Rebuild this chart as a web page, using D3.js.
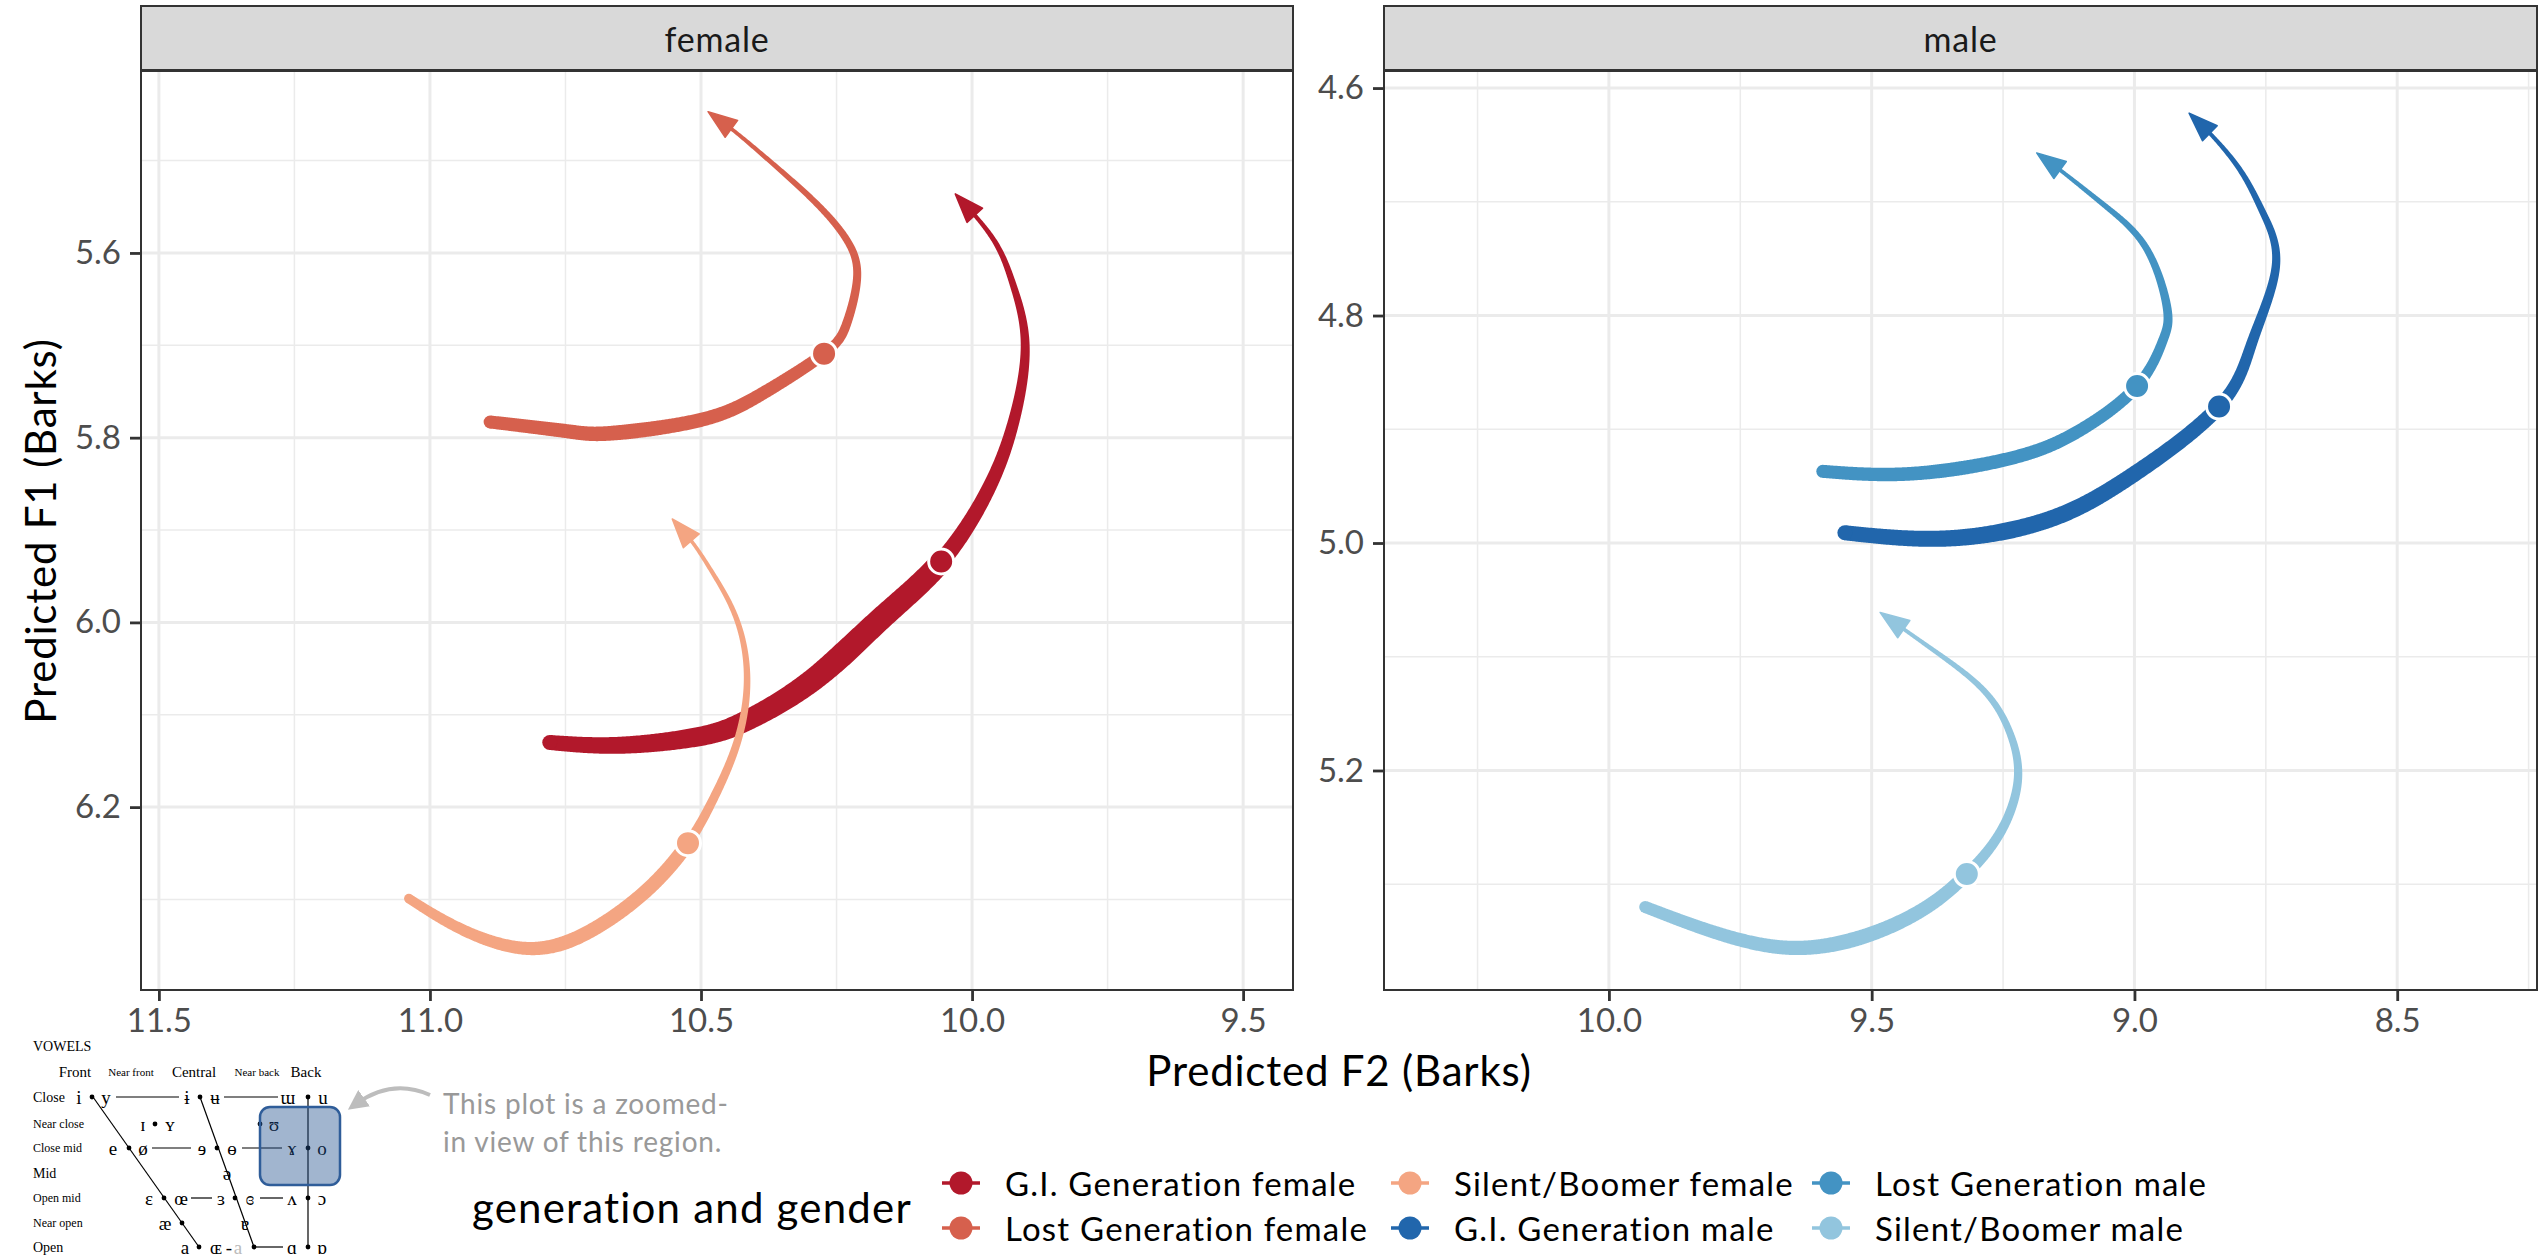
<!DOCTYPE html>
<html><head><meta charset="utf-8">
<script src="https://cdn.jsdelivr.net/npm/d3@7"></script>
<style>body{margin:0;background:#fff}svg{display:block}</style>
</head><body>
<svg id="chart" width="2539" height="1256"></svg>
<script>
// ---------------- DATA ----------------
const seriesNames = ["G.I. Generation female","Lost Generation female","Silent/Boomer female","G.I. Generation male","Lost Generation male","Silent/Boomer male"];
const seriesPanels = ["female","female","female","male","male","male"];
const seriesColors = ["#b2182b","#d6604d","#f4a582","#2166ac","#4393c3","#92c5de"];

// trajectories: F2 (Barks) and F1 (Barks), from onset to offset
const giFemaleF2   = [10.779,10.649,10.507,10.415,10.293,10.170,10.057,9.972,9.924,9.902,9.924,9.961,10.031];
const giFemaleF1   = [6.130,6.133,6.124,6.106,6.062,5.997,5.934,5.858,5.784,5.701,5.635,5.585,5.536];
const lostFemaleF2 = [10.889,10.747,10.662,10.502,10.386,10.273,10.231,10.212,10.231,10.293,10.386,10.441,10.487];
const lostFemaleF1 = [5.783,5.793,5.795,5.781,5.752,5.709,5.676,5.626,5.586,5.543,5.494,5.467,5.447];
const silentFemaleF2 = [11.039,10.939,10.821,10.710,10.600,10.524,10.478,10.434,10.415,10.434,10.478,10.515,10.553];
const silentFemaleF1 = [6.299,6.333,6.353,6.336,6.290,6.239,6.192,6.131,6.062,5.997,5.947,5.914,5.888];
const giMaleF2   = [9.551,9.357,9.167,9.009,8.839,8.775,8.731,8.755,8.799,8.856,8.896];
const giMaleF1   = [4.991,4.996,4.980,4.942,4.880,4.822,4.757,4.710,4.672,4.640,4.622];
const lostMaleF2 = [9.593,9.422,9.231,9.104,8.995,8.946,8.938,8.976,9.052,9.136,9.186];
const lostMaleF1 = [4.937,4.939,4.925,4.901,4.862,4.822,4.793,4.742,4.705,4.674,4.657];
const silentMaleF2 = [9.931,9.794,9.650,9.509,9.395,9.319,9.256,9.222,9.237,9.288,9.383,9.484];
const silentMaleF1 = [5.320,5.343,5.356,5.345,5.320,5.291,5.255,5.209,5.167,5.129,5.094,5.061];
// index of the highlighted (midpoint) measurement in each trajectory
const midpointIndex = [6,5,5,4,4,5];

// axis ticks and limits
const femaleF2Ticks = [11.5,11.0,10.5,10.0,9.5];
const femaleF1Ticks = [5.6,5.8,6.0,6.2];
const maleF2Ticks = [10.0,9.5,9.0,8.5];
const maleF1Ticks = [4.6,4.8,5.0,5.2];
const femaleF2Limits = [11.533,9.408];
const femaleF1Limits = [5.403,6.398];
const maleF2Limits = [10.428,8.234];
const maleF1Limits = [4.585,5.393];

// --------------- STYLE / LAYOUT ---------------
const FONT = "Lato, 'Open Sans', sans-serif";
const PANEL_TOP = 71, PANEL_BOTTOM = 990, STRIP_TOP = 6;
const panelBox = {female:[141,1293], male:[1384,2537]};
// width profile: start, peak (fraction of way to midpoint), before midpoint, after midpoint, end
const widthStyle = [
  {w0:15, wPeak:24, peakFrac:0.7, wDot:22, wAfter:17, wEnd:3},
  {w0:13, wPeak:15, peakFrac:0.4, wDot:12, wAfter:10, wEnd:3},
  {w0:9.5,wPeak:14, peakFrac:0.5, wDot:14, wAfter:10, wEnd:3},
  {w0:15, wPeak:17, peakFrac:0.4, wDot:15, wAfter:13, wEnd:3},
  {w0:13, wPeak:14, peakFrac:0.4, wDot:12, wAfter:11, wEnd:3},
  {w0:12, wPeak:15, peakFrac:0.6, wDot:13, wAfter:11, wEnd:3}
];

const seriesF2 = [giFemaleF2,lostFemaleF2,silentFemaleF2,giMaleF2,lostMaleF2,silentMaleF2];
const seriesF1 = [giFemaleF1,lostFemaleF1,silentFemaleF1,giMaleF1,lostMaleF1,silentMaleF1];

const svg = d3.select("#chart");
svg.append("rect").attr("width",2539).attr("height",1256).attr("fill","#fff");

const panels = [
  {name:"female", xDom:femaleF2Limits, yDom:femaleF1Limits, xt:femaleF2Ticks, yt:femaleF1Ticks},
  {name:"male", xDom:maleF2Limits, yDom:maleF1Limits, xt:maleF2Ticks, yt:maleF1Ticks}
];

function minorVals(ticks, dom){
  const step = ticks[1]-ticks[0];
  const lo = Math.min(dom[0],dom[1]), hi = Math.max(dom[0],dom[1]);
  const out=[];
  for(let k=-2;k<ticks.length+2;k++){const v=ticks[0]+step*(k+0.5); if(v>lo&&v<hi) out.push(v);}
  return out;
}

panels.forEach(p=>{
  const [x0,x1] = panelBox[p.name];
  p.x = d3.scaleLinear().domain(p.xDom).range([x0,x1]);
  p.y = d3.scaleLinear().domain(p.yDom).range([PANEL_TOP,PANEL_BOTTOM]);
  const g = svg.append("g").attr("class","panel-"+p.name);
  g.append("rect").attr("x",x0).attr("y",PANEL_TOP).attr("width",x1-x0).attr("height",PANEL_BOTTOM-PANEL_TOP).attr("fill","#fff");
  const grid = g.append("g");
  minorVals(p.xt,p.xDom).forEach(v=>grid.append("line").attr("x1",p.x(v)).attr("x2",p.x(v)).attr("y1",PANEL_TOP).attr("y2",PANEL_BOTTOM).attr("stroke","#ebebeb").attr("stroke-width",1.5));
  minorVals(p.yt,p.yDom).forEach(v=>grid.append("line").attr("y1",p.y(v)).attr("y2",p.y(v)).attr("x1",x0).attr("x2",x1).attr("stroke","#ebebeb").attr("stroke-width",1.5));
  p.xt.forEach(v=>grid.append("line").attr("x1",p.x(v)).attr("x2",p.x(v)).attr("y1",PANEL_TOP).attr("y2",PANEL_BOTTOM).attr("stroke","#ebebeb").attr("stroke-width",3));
  p.yt.forEach(v=>grid.append("line").attr("y1",p.y(v)).attr("y2",p.y(v)).attr("x1",x0).attr("x2",x1).attr("stroke","#ebebeb").attr("stroke-width",3));

  // axes
  const ya = g.append("g").attr("transform",`translate(${x0},0)`)
    .call(d3.axisLeft(p.y).tickValues(p.yt).tickSize(11).tickPadding(9).tickFormat(d3.format(".1f")));
  const xa = g.append("g").attr("transform",`translate(0,${PANEL_BOTTOM})`)
    .call(d3.axisBottom(p.x).tickValues(p.xt).tickSize(11).tickPadding(8).tickFormat(d3.format(".1f")));
  [ya,xa].forEach(a=>{
    a.select(".domain").remove();
    a.selectAll(".tick line").attr("stroke","#333").attr("stroke-width",2.8);
    a.selectAll(".tick text").attr("fill","#4d4d4d").style("font-family",FONT).style("font-size","33px");
  });

  // strip
  g.append("rect").attr("x",x0).attr("y",STRIP_TOP).attr("width",x1-x0).attr("height",PANEL_TOP-STRIP_TOP-1)
    .attr("fill","#d9d9d9").attr("stroke","#333").attr("stroke-width",2);
  g.append("text").attr("x",(x0+x1)/2).attr("y",(STRIP_TOP+PANEL_TOP)/2).attr("text-anchor","middle")
    .attr("dominant-baseline","central").attr("fill","#1a1a1a").style("font-family",FONT).style("font-size","34px")
    .style("letter-spacing","0.8px").text(p.name);
  p.g = g;
});

// ---------------- TRAJECTORIES ----------------
const trajLayer = {};
panels.forEach(p=>{trajLayer[p.name] = svg.append("g");});
const dotLayer = svg.append("g");

function drawTrajectory(si){
  const p = panels.find(d=>d.name===seriesPanels[si]);
  const f2 = seriesF2[si], f1 = seriesF1[si];
  const pts = f2.map((v,i)=>[p.x(v), p.y(f1[i])]);
  const color = seriesColors[si], st = widthStyle[si];
  const g = trajLayer[p.name];
  const line = d3.line().curve(d3.curveNatural);
  const tmp = g.append("path").attr("d",line(pts)).attr("fill","none");
  const node = tmp.node(); const L = node.getTotalLength();
  const N = 600; const S = [];
  for(let i=0;i<=N;i++){const q=node.getPointAtLength(L*i/N); S.push([q.x,q.y]);}
  tmp.remove();
  const dp = pts[midpointIndex[si]];
  let best=0,bd=Infinity;
  S.forEach((s,i)=>{const d=(s[0]-dp[0])**2+(s[1]-dp[1])**2; if(d<bd){bd=d;best=i;}});
  const dotT = best/N;
  const wT = [0, st.peakFrac*dotT, dotT, dotT+1e-6, 1];
  const wV = [st.w0, st.wPeak, st.wDot, st.wAfter, st.wEnd];
  const wf = d3.scaleLinear().domain(wT).range(wV);
  const arrowLen = 29, arrowHalf = 10.5;
  const cut = Math.max(2, Math.round(N*(1-(arrowLen*0.7)/L)));
  const left=[], right=[];
  for(let i=0;i<=cut;i++){
    const a = S[Math.max(0,i-2)], b = S[Math.min(N,i+2)];
    let tx=b[0]-a[0], ty=b[1]-a[1]; const len=Math.hypot(tx,ty)||1; tx/=len; ty/=len;
    const w = wf(i/N)/2;
    left.push([S[i][0]-ty*w, S[i][1]+tx*w]);
    right.push([S[i][0]+ty*w, S[i][1]-tx*w]);
  }
  const poly = left.concat(right.reverse());
  g.append("path").attr("d","M"+poly.map(d=>d.map(v=>v.toFixed(2)).join(",")).join("L")+"Z").attr("fill",color);
  g.append("circle").attr("cx",S[0][0]).attr("cy",S[0][1]).attr("r",st.w0/2).attr("fill",color);
  // arrow head
  const tip = S[N];
  const back = S[Math.max(0, Math.round(N*(1-arrowLen/L)))];
  let dx=tip[0]-back[0], dy=tip[1]-back[1]; const dl=Math.hypot(dx,dy); dx/=dl; dy/=dl;
  const bc=[tip[0]-dx*arrowLen, tip[1]-dy*arrowLen];
  const h1=[bc[0]-dy*arrowHalf, bc[1]+dx*arrowHalf], h2=[bc[0]+dy*arrowHalf, bc[1]-dx*arrowHalf];
  g.append("path").attr("d",`M${tip}L${h1}L${h2}Z`).attr("fill",color).attr("stroke",color).attr("stroke-width",1.5).attr("stroke-linejoin","round");
  // midpoint
  dotLayer.append("circle").attr("cx",dp[0]).attr("cy",dp[1]).attr("r",12.5).attr("fill",color).attr("stroke","#fff").attr("stroke-width",3);
}
seriesNames.forEach((n,i)=>drawTrajectory(i));

// panel borders on top
panels.forEach(p=>{
  const [x0,x1]=panelBox[p.name];
  svg.append("rect").attr("x",x0).attr("y",PANEL_TOP).attr("width",x1-x0).attr("height",PANEL_BOTTOM-PANEL_TOP)
    .attr("fill","none").attr("stroke","#333").attr("stroke-width",2);
});

// axis titles
svg.append("text").attr("x",1339).attr("y",1070).attr("text-anchor","middle").attr("dominant-baseline","central")
  .style("font-family",FONT).style("font-size","42px").style("letter-spacing","0.8px").attr("fill","#000").text("Predicted F2 (Barks)");
svg.append("text").attr("transform","translate(40,531) rotate(-90)").attr("text-anchor","middle").attr("dominant-baseline","central")
  .style("font-family",FONT).style("font-size","42px").style("letter-spacing","0.8px").attr("fill","#000").text("Predicted F1 (Barks)");

// ---------------- LEGEND ----------------
const legend = svg.append("g");
legend.append("text").attr("x",472).attr("y",1207).attr("dominant-baseline","central")
  .style("font-family",FONT).style("font-size","42px").style("letter-spacing","1.2px").attr("fill","#000").text("generation and gender");
const legCols = [961,1410,1831], legRows=[1183,1228];
seriesNames.forEach((n,i)=>{
  const cx = legCols[Math.floor(i/2)], cy = legRows[i%2];
  legend.append("line").attr("x1",cx-19).attr("x2",cx+19).attr("y1",cy).attr("y2",cy).attr("stroke",seriesColors[i]).attr("stroke-width",3.5);
  legend.append("circle").attr("cx",cx).attr("cy",cy).attr("r",11.5).attr("fill",seriesColors[i]);
  legend.append("text").attr("x",cx+44).attr("y",cy).attr("dominant-baseline","central")
    .style("font-family",FONT).style("font-size","33px").style("letter-spacing","1.2px").attr("fill","#000").text(n);
});

// ---------------- VOWEL CHART INSET ----------------
const vowelRowLabels = ["Close","Near close","Close mid","Mid","Open mid","Near open","Open"];
const vowelColLabels = ["Front","Near front","Central","Near back","Back"];
const inset = svg.append("g");
const SERIF = "'Liberation Serif','DejaVu Serif',serif";
const rowY = [1097,1124,1148,1173,1198,1223,1247];
const rowSize = [14,12,12,14,12,12,14];
inset.append("text").attr("x",33).attr("y",1046).attr("dominant-baseline","central").style("font-family",SERIF).style("font-size","14px").text("VOWELS");
const colX = [75,131,194,257,306], colSize=[15,11,15,11,15];
vowelColLabels.forEach((t,i)=>inset.append("text").attr("x",colX[i]).attr("y",1072).attr("text-anchor","middle").attr("dominant-baseline","central")
  .style("font-family",SERIF).style("font-size",colSize[i]+"px").text(t));
vowelRowLabels.forEach((t,i)=>inset.append("text").attr("x",33).attr("y",rowY[i]).attr("dominant-baseline","central")
  .style("font-family",SERIF).style("font-size",rowSize[i]+"px").text(t));
const ln = (a,b,c,d)=>inset.append("line").attr("x1",a).attr("y1",b).attr("x2",c).attr("y2",d).attr("stroke","#000").attr("stroke-width",1.2);
ln(93,1097,199,1247); ln(200,1097,254,1247); ln(308,1097,308,1247);
ln(116,1097,179,1097); ln(224,1097,278,1097);
ln(152,1148,191,1148); ln(242,1148,282,1148);
ln(191,1198,212,1198); ln(260,1198,283,1198);
ln(254,1247,283,1247);
[[92,1097],[200,1097],[308,1097],[155,1124],[260,1124],[129,1148],[217,1148],[308,1148],[164,1198],[235,1198],[308,1198],[182,1223],[199,1247],[254,1247],[308,1247]]
  .forEach(d=>inset.append("circle").attr("cx",d[0]).attr("cy",d[1]).attr("r",2.4).attr("fill","#000"));
const vowels = [
  ["i",79,0],["y",106,0],["ɨ",187,0],["ʉ",215,0],["ɯ",288,0],["u",323,0],
  ["ɪ",143,1],["ʏ",170,1],["ʊ",274,1],
  ["e",113,2],["ø",143,2],["ɘ",202,2],["ɵ",232,2],["ɤ",292,2],["o",322,2],
  ["ə",227,3],
  ["ɛ",149,4],["œ",181,4],["ɜ",221,4],["ɞ",250,4],["ʌ",292,4],["ɔ",322,4],
  ["æ",165,5],["ɐ",245,5],
  ["a",185,6],["ɶ",216,6],["-",229,6],["ä",238,6],["ɑ",292,6],["ɒ",322,6]
];
vowels.forEach(v=>inset.append("text").attr("x",v[1]).attr("y",rowY[v[2]]).attr("text-anchor","middle").attr("dominant-baseline","central")
  .style("font-family",SERIF).style("font-size","19px").attr("fill",v[0]==="ä"?"#bbb":"#000").text(v[0]==="ä"?"a":v[0]));
inset.append("rect").attr("x",260).attr("y",1107).attr("width",80).attr("height",78).attr("rx",10)
  .attr("fill","#1f4e8c").attr("fill-opacity",0.42).attr("stroke","#2f5d99").attr("stroke-width",2.5);

// annotation
svg.append("defs").append("marker").attr("id","ah").attr("viewBox","0 0 10 10").attr("refX",5).attr("refY",5)
  .attr("markerWidth",5).attr("markerHeight",5).attr("orient","auto")
  .append("path").attr("d","M0,0L10,5L0,10Z").attr("fill","#bdbdbd");
svg.append("path").attr("d","M430,1095 Q392,1078 356,1104").attr("fill","none").attr("stroke","#bdbdbd").attr("stroke-width",4).attr("marker-end","url(#ah)");
svg.append("text").attr("x",443).attr("y",1103).attr("dominant-baseline","central").style("font-family",FONT).style("font-size","28px").style("letter-spacing","0.8px").attr("fill","#999").text("This plot is a zoomed-");
svg.append("text").attr("x",443).attr("y",1141).attr("dominant-baseline","central").style("font-family",FONT).style("font-size","28px").style("letter-spacing","0.8px").attr("fill","#999").text("in view of this region.");
</script>
</body></html>
